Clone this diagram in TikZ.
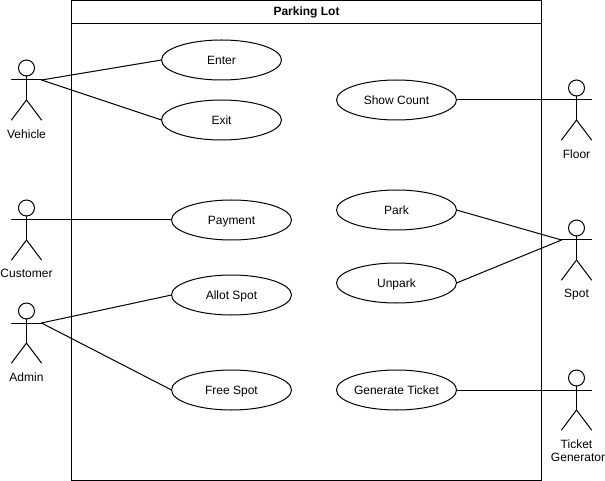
\documentclass[tikz,border=0pt]{standalone}
\usepackage{fontspec}
\setmainfont{Liberation Sans}
\usetikzlibrary{shapes}
\tikzstyle{Centering}=[x=1pt,y=-1pt,line width=1pt]
\tikzstyle{Case}=[ellipse,draw,inner sep=0pt,outer sep=0pt,minimum width=120pt,
minimum height=40pt,text height=8.6pt,text depth=0pt,font=\fontsize{12}{14}\selectfont]
\tikzstyle{Frame}=[rectangle,draw,inner sep=0pt,outer sep=0pt]
\tikzstyle{Head}=[circle,draw,inner sep=0pt,outer sep=0pt,minimum size=16pt]
\tikzstyle{Name}=[align=center,inner sep=0pt,font=\fontsize{12}{14}\selectfont]
\tikzstyle{Edge}=[draw,line cap=round]
% actor: name, x, y of the arms, label
\newcommand{\Actor}[4]{
    \node[Head](#1)at(#2,#3-12){};
    \coordinate(#1L)at(#2-15,#3);
    \coordinate(#1R)at(#2+15,#3);
    \coordinate(#1H)at(#2,#3+20);
    \coordinate(#1A)at(#2-15,#3+40);
    \coordinate(#1B)at(#2+15,#3+40);
    \draw[Edge](#1)--(#1H);
    \draw[Edge](#1L)--(#1R);
    \draw[Edge](#1A)--(#1H)--(#1B);
    \node[Name,anchor=north](#1N)at(#2,#3+49){#4};
}
\begin{document}
\begin{tikzpicture}[Centering]
        \useasboundingbox(0,0)rectangle(605,481);
        \node[Frame,minimum width=470pt,minimum height=480pt](Lot)at(306.5,240.5){};
        \node[Frame,minimum width=470pt,minimum height=23pt,
            font=\bfseries\fontsize{12}{14}\selectfont](Title)at(306.5,12){Parking Lot};
        \node[Case](Enter)at(221.5,60){Enter};
        \node[Case](Exit)at(221.5,120){Exit};
        \node[Case](Payment)at(231.5,220){Payment};
        \node[Case](Allot)at(231.5,295){Allot Spot};
        \node[Case](Free)at(231.5,390){Free Spot};
        \node[Case](Count)at(396.5,100){Show Count};
        \node[Case](Park)at(396.5,210){Park};
        \node[Case](Unpark)at(396.5,283){Unpark};
        \node[Case](Ticket)at(396.5,390){Generate Ticket};
        \Actor{Vehicle}{26.5}{80}{Vehicle}
        \Actor{Customer}{26.5}{220}{Customer}
        \Actor{Admin}{26.5}{323}{Admin}
        \Actor{Floor}{576.5}{100}{Floor}
        \Actor{Spot}{576.5}{240}{Spot}
        \Actor{Gen}{576.5}{390}{Ticket\\[-1pt]\hspace*{3pt}Generator}
        \draw[Edge](VehicleR)--(Enter.west);
        \draw[Edge](VehicleR)--(Exit.west);
        \draw[Edge](CustomerR)--(Payment.west);
        \draw[Edge](AdminR)--(Allot.west);
        \draw[Edge](AdminR)--(Free.west);
        \draw[Edge](Count.east)--(FloorL);
        \draw[Edge](Park.east)--(SpotL);
        \draw[Edge](Unpark.east)--(SpotL);
        \draw[Edge](Ticket.east)--(GenL);
    \end{tikzpicture}
\end{document}
